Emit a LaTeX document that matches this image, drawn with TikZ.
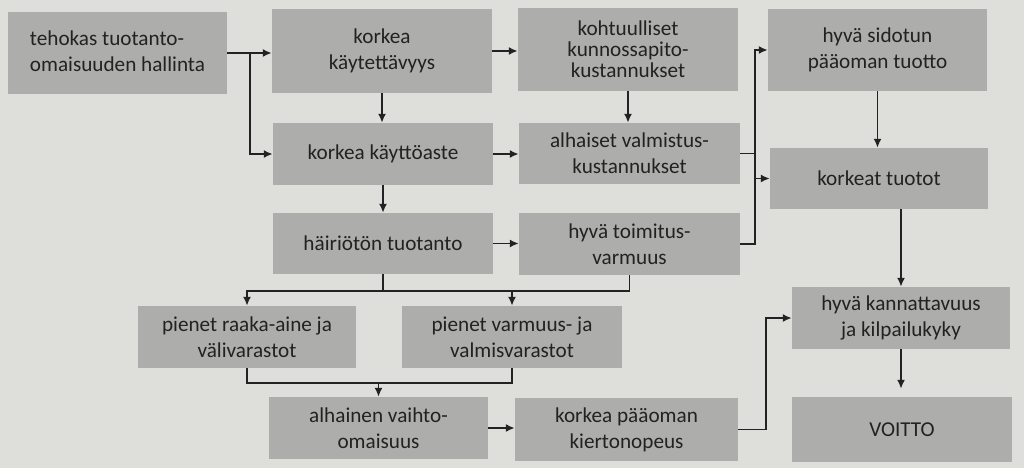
\documentclass[tikz,border=0pt]{standalone}
\usepackage{fontspec}
\setmainfont{Carlito}
\usetikzlibrary{arrows.meta,calc}
\definecolor{paper}{HTML}{DEDEDB}
\definecolor{boxfill}{HTML}{ADADAB}
\definecolor{ink}{HTML}{222222}
\tikzset{
  stepbox/.style={fill=boxfill, inner sep=0pt, align=center, text=ink,
    font=\fontsize{21.2}{26}\selectfont},
  conn/.style={draw=ink, line width=1.8pt},
  arr/.style={conn, -{Latex[length=9pt,width=8pt]}},
}
\newcommand{\mybox}[6]{%
  \node[stepbox, minimum width={#4-#2}, minimum height={#5-#3}] (#1) at ({(#2+#4)/2},{(#3+#5)/2}) {#6};}
\begin{document}
\begin{tikzpicture}[x=1pt,y=-1pt]
\fill[paper] (0,0) rectangle (1024,468);
\useasboundingbox (0,0) rectangle (1024,468);

\mybox{A}{8}{12}{227}{94}{\begin{tabular}{@{}l@{}}tehokas tuotanto-\\omaisuuden hallinta\end{tabular}}
\mybox{B}{272}{9}{492}{93}{korkea\\käytettävyys}
\mybox{C}{273}{123}{493}{185}{korkea käyttöaste}
\mybox{D}{273}{213}{493}{274}{häiriötön tuotanto}
\node[stepbox, minimum width=220, minimum height=83, font=\fontsize{21.2}{20.8}\selectfont] (E) at (628,49.5) {kohtuulliset\\kunnossapito-\\kustannukset};
\mybox{F}{519}{123}{740}{184}{alhaiset valmistus-\\kustannukset}
\mybox{G}{519}{213}{740}{275}{hyvä toimitus-\\varmuus}
\mybox{H}{768}{9}{987}{91}{hyvä sidotun\\pääoman tuotto}
\mybox{I}{770}{148}{988}{209}{korkeat tuotot}
\mybox{J}{138}{306}{356}{368}{pienet raaka-aine ja\\välivarastot}
\mybox{K}{402}{306}{622}{368}{pienet varmuus- ja\\valmisvarastot}
\mybox{L}{269}{397}{488}{459}{alhainen vaihto-\\omaisuus}
\mybox{M}{515}{398}{738}{461}{korkea pääoman\\kiertonopeus}
\mybox{N}{792}{287}{1010}{349}{hyvä kannattavuus\\ja kilpailukyky}
\mybox{O}{792}{397}{1012}{462}{VOITTO}

\coordinate (bx) at (755,0);
\coordinate (bx2) at (766,0);
\coordinate (t1) at (0,291);
\coordinate (t2) at (0,383);
\coordinate (ja) at (250,0);

% row 1
\draw[arr] (A.east) -- (A.east -| B.west);
\draw[arr] (A.east -| ja) |- (C.west);
\draw[arr] (B.east) -- (B.east -| E.west);
\draw[arr] (B.south) -- (B.south |- C.north);
\draw[arr] (C.south) -- (C.south |- D.north);
\draw[arr] (C.east) -- (C.east -| F.west);
\draw[arr] (D.east) -- (D.east -| G.west);
\draw[arr] (E.south) -- (E.south |- F.north);

% bus to H and I
\draw[arr] (G.east) -- (G.east -| bx) |- (H.west);
\draw[conn] (F.east) -- (F.east -| bx);
\draw[arr] (I.west -| bx) -- (I.west);
\draw[arr] (H.south) -- (H.south |- I.north);
\draw[arr] (N.north |- I.south) -- (N.north);
\draw[arr, shorten >=8pt] (N.south) -- (N.south |- O.north);

% to stocks
\draw[arr] (G.south) |- (J.north |- t1) -- (J.north);
\draw[conn] (D.south) -- (D.south |- t1);
\draw[arr] (K.north |- t1) -- (K.north);

% to current assets
\draw[conn] (J.south) |- (K.south |- t2) -- (K.south);
\draw[arr] (L.north |- t2) -- (L.north);
\draw[arr] (L.east) -- (L.east -| M.west);
\draw[arr] (M.east) -- (M.east -| bx2) |- (N.west);
\end{tikzpicture}
\end{document}
